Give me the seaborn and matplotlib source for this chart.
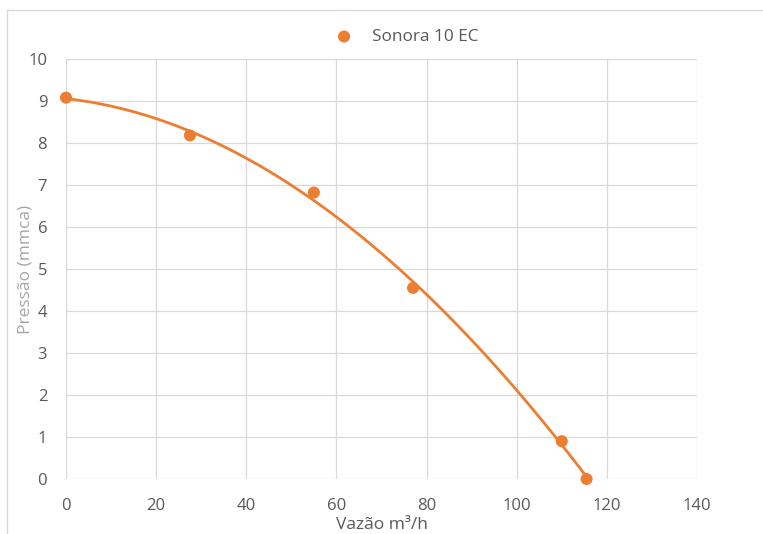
import matplotlib
matplotlib.use("Agg")
import matplotlib.pyplot as plt
import pandas as pd
import seaborn as sns
from matplotlib.patches import Rectangle

vazao = [0, 27.5, 55, 77, 110, 115.5]
pressao = [9.08, 8.18, 6.82, 4.55, 0.9, 0.0]
serie = "Sonora 10 EC"
x_ticks = [0, 20, 40, 60, 80, 100, 120, 140]
y_ticks = [0, 1, 2, 3, 4, 5, 6, 7, 8, 9, 10]

orange = "#ED7D31"
grey_text = "#595959"
grid_col = "#D9D9D9"

sns.set_theme(style="white")
plt.rcParams["font.family"] = ["Open Sans", "DejaVu Sans"]

df = pd.DataFrame({"vazao": vazao, "pressao": pressao})

fig = plt.figure(figsize=(7.63, 5.34), dpi=100)
ax = fig.add_axes([66 / 763, 1 - 479 / 534, 631 / 763, 420 / 534])

# polynomial trendline (order 3) like the spreadsheet's
sns.regplot(data=df, x="vazao", y="pressao", order=3, ci=None, scatter=False,
            line_kws={"color": orange, "lw": 2.0, "zorder": 3}, ax=ax)
sns.scatterplot(data=df, x="vazao", y="pressao", color=orange, s=75,
                edgecolor="none", zorder=4, clip_on=False, label=serie, ax=ax)

ax.set_xlim(0, 140)
ax.set_ylim(0, 10)
ax.set_xticks(x_ticks)
ax.set_yticks(y_ticks)
ax.grid(True, color=grid_col, lw=0.9)
ax.set_axisbelow(True)
for s in ax.spines.values():
    s.set_visible(False)
ax.tick_params(axis="both", length=0, labelsize=12, labelcolor=grey_text)
ax.tick_params(axis="x", pad=14)
ax.tick_params(axis="y", pad=13.5)
ax.set_xlabel("Vazão m³/h", fontsize=12.5, color=grey_text, labelpad=1.5)
ax.set_ylabel("Pressão (mmca)", fontsize=12.5, color="#A6A6A6", labelpad=-4)

ax.get_legend().remove()
h, l = ax.get_legend_handles_labels()
fig.legend(h, l, loc="center", bbox_to_anchor=(0.5275, 0.9307), frameon=False,
           fontsize=12.4, labelcolor=grey_text, handletextpad=0.6, markerscale=1.0)

fig.patches.append(Rectangle((7 / 763, -0.05), 1.2, 1.05 - 10 / 534,
                             transform=fig.transFigure, fill=False,
                             edgecolor=grid_col, lw=1.0))

fig.savefig("out.png", dpi=100)
